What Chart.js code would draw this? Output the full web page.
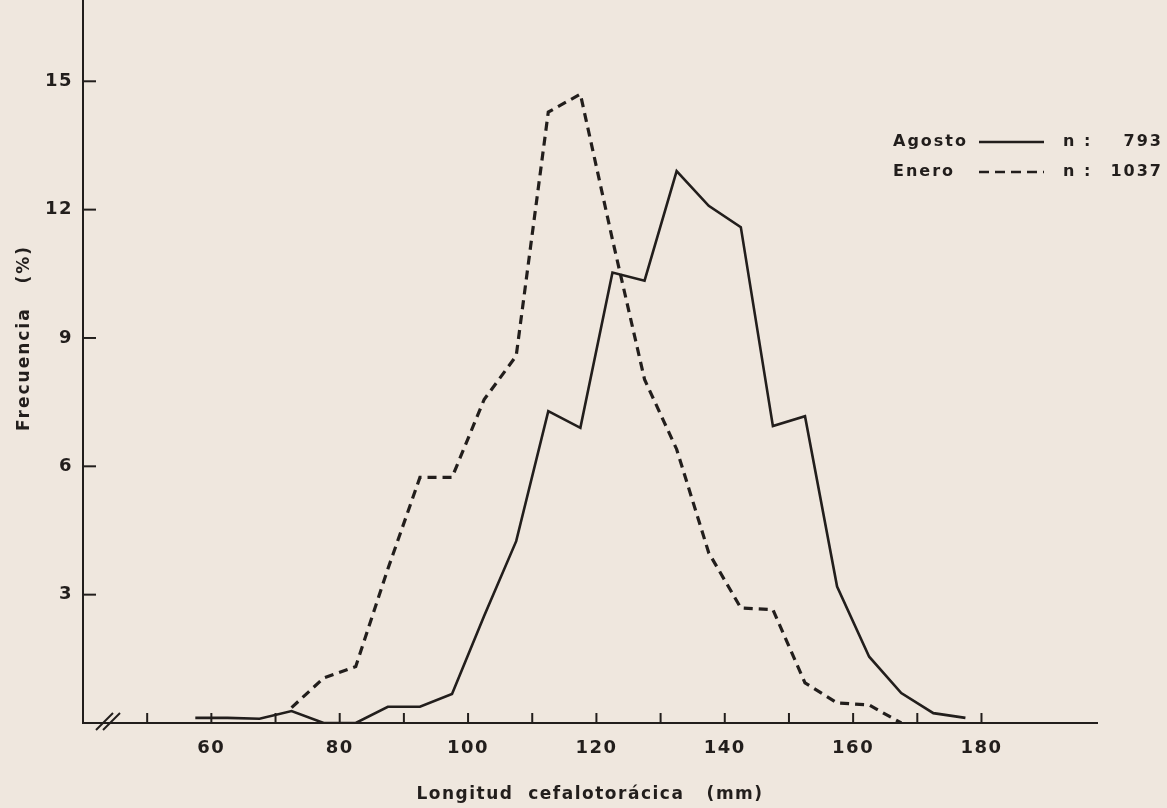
<!DOCTYPE html>
<html>
<head>
<meta charset="utf-8">
<script src="https://cdn.jsdelivr.net/npm/chart.js@4"></script>
<style>
  html, body { margin: 0; padding: 0; background: #efe7de; overflow: hidden; }
  #wrap { width: 1167px; height: 808px; position: relative; }
</style>
</head>
<body>
<div id="wrap"><canvas id="freqChart"></canvas></div>
<script>
// Class midpoints (mm) and frequencies (%)
const lengthMid = [57.5, 62.5, 67.5, 72.5, 77.5, 82.5, 87.5, 92.5, 97.5, 102.5, 107.5, 112.5, 117.5,
  122.5, 127.5, 132.5, 137.5, 142.5, 147.5, 152.5, 157.5, 162.5, 167.5, 172.5, 177.5];
const agosto = [0.12, 0.12, 0.1, 0.28, 0, 0, 0.38, 0.38, 0.68, 2.5, 4.25, 7.29, 6.9,
  10.53, 10.34, 12.9, 12.09, 11.59, 6.94, 7.17, 3.19, 1.55, 0.7, 0.23, 0.12];
const enero = [null, null, null, 0.36, 1.05, 1.32, 3.6, 5.74, 5.74, 7.56, 8.58, 14.28, 14.7,
  11.3, 8.03, 6.4, 3.98, 2.69, 2.65, 0.94, 0.47, 0.42, 0, null, null];

// Axis ticks
const yTickValues = [3, 6, 9, 12, 15];
const xTickLabels = [60, 80, 100, 120, 140, 160, 180];
const xTickMarks = [50, 60, 70, 80, 90, 100, 110, 120, 130, 140, 150, 160, 170, 180];

// Legend entries
const legendRows = [
  { name: 'Agosto', n: '793', dashed: false },
  { name: 'Enero', n: '1037', dashed: true }
];

const ink = '#221e1c';
const fontFamily = '"DejaVu Sans", sans-serif';

const toPoints = values => lengthMid.map((x, i) => ({ x: x, y: values[i] }));

// Letter spacing for the text drawn by the scales
const spacingPlugin = {
  id: 'spacing',
  beforeDraw(chart) {
    chart.ctx.letterSpacing = '1.5px';
  }
};

// Inward tick marks, axis break, y title and legend
const decorPlugin = {
  id: 'decor',
  afterDraw(chart) {
    const ctx = chart.ctx;
    const xs = chart.scales.x;
    const ys = chart.scales.y;
    const y0 = ys.getPixelForValue(0);
    const x0 = xs.getPixelForValue(40);

    ctx.save();
    ctx.strokeStyle = ink;
    ctx.lineWidth = 2;
    ctx.setLineDash([]);

    yTickValues.forEach(v => {
      const py = ys.getPixelForValue(v);
      ctx.beginPath();
      ctx.moveTo(x0, py);
      ctx.lineTo(x0 + 13, py);
      ctx.stroke();
    });

    xTickMarks.forEach(v => {
      const px = xs.getPixelForValue(v);
      ctx.beginPath();
      ctx.moveTo(px, y0);
      ctx.lineTo(px, y0 - 10);
      ctx.stroke();
    });

    // axis break "//"
    [13, 20].forEach(dx => {
      ctx.beginPath();
      ctx.moveTo(x0 + dx, y0 + 7);
      ctx.lineTo(x0 + dx + 17, y0 - 10);
      ctx.stroke();
    });

    ctx.fillStyle = ink;
    ctx.letterSpacing = '2px';

    // y axis title
    ctx.save();
    ctx.font = 'bold 17px ' + fontFamily;
    ctx.translate(25, 338);
    ctx.rotate(-Math.PI / 2);
    ctx.textAlign = 'center';
    ctx.textBaseline = 'middle';
    ctx.fillText('Frecuencia   (%)', 0, 0);
    ctx.restore();

    // legend
    ctx.font = 'bold 16px ' + fontFamily;
    ctx.textBaseline = 'middle';
    legendRows.forEach((row, i) => {
      const ly = 142 + i * 30;
      ctx.textAlign = 'left';
      ctx.fillText(row.name, 893, ly);
      ctx.fillText('n :', 1063, ly);
      ctx.textAlign = 'right';
      ctx.fillText(row.n, 1163, ly);
      ctx.beginPath();
      ctx.lineWidth = 2.4;
      ctx.setLineDash(row.dashed ? [10, 6] : []);
      ctx.moveTo(979, ly);
      ctx.lineTo(1044, ly);
      ctx.stroke();
    });
    ctx.restore();
  }
};

new Chart(document.getElementById('freqChart'), {
  type: 'line',
  data: {
    datasets: [
      {
        label: 'Agosto',
        data: toPoints(agosto),
        borderColor: ink,
        borderWidth: 2.6,
        pointRadius: 0,
        tension: 0,
        spanGaps: false
      },
      {
        label: 'Enero',
        data: toPoints(enero),
        borderColor: ink,
        borderWidth: 3.2,
        borderDash: [9, 6],
        pointRadius: 0,
        tension: 0,
        spanGaps: false
      }
    ]
  },
  options: {
    responsive: true,
    maintainAspectRatio: false,
    animation: false,
    layout: { padding: { top: 0, right: 70, bottom: 0, left: 0 } },
    plugins: {
      legend: { display: false },
      tooltip: { enabled: false }
    },
    scales: {
      x: {
        type: 'linear',
        min: 40,
        max: 198,
        grid: { display: false, drawTicks: false },
        border: { display: true, color: ink, width: 2 },
        ticks: {
          stepSize: 10,
          autoSkip: false,
          maxRotation: 0,
          padding: 15,
          color: ink,
          font: { family: fontFamily, size: 18, weight: 'bold' },
          callback: v => xTickLabels.includes(v) ? String(v) : ''
        },
        title: {
          display: true,
          text: 'Longitud  cefalotorácica   (mm)',
          color: ink,
          font: { family: fontFamily, size: 17, weight: 'bold' },
          padding: { top: 0, bottom: 3 }
        },
        afterFit: scale => {
          scale.height = 85;
          scale.paddingLeft = 0;
          scale.paddingRight = 0;
        }
      },
      y: {
        type: 'linear',
        min: 0,
        max: 16.9,
        grid: { display: false, drawTicks: false },
        border: { display: true, color: ink, width: 2 },
        ticks: {
          stepSize: 3,
          includeBounds: false,
          padding: 10,
          color: ink,
          font: { family: fontFamily, size: 18, weight: 'bold' },
          callback: v => yTickValues.includes(v) ? String(v) : ''
        },
        title: { display: false },
        afterFit: scale => {
          scale.width = 83;
          scale.paddingTop = 0;
          scale.paddingBottom = 0;
        }
      }
    }
  },
  plugins: [spacingPlugin, decorPlugin]
});
</script>
</body>
</html>
